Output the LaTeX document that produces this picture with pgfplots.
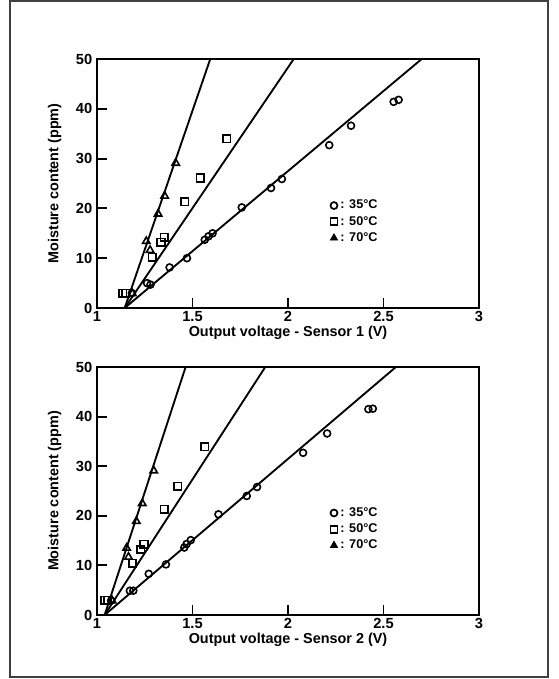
\documentclass[border=0pt]{standalone}
\usepackage{fontspec}
\setmainfont{Liberation Sans}
\usepackage{pgfplots}
\pgfplotsset{compat=1.18}
\pgfplotsset{
 myax/.style={
  scale only axis, width=286.5pt, height=186.75pt,
  xmin=1, xmax=3, ymin=0, ymax=50,
  xtick={1,1.5,2,2.5,3}, ytick={0,10,20,30,40,50},
  tick align=inside, xtick pos=bottom, ytick pos=left,
  major tick length=7.5pt,
  axis line style={line width=1.4pt},
  every tick/.style={black, line width=1.4pt},
  /pgf/number format/assume math mode=true,
  tick label style={font=\fontsize{11}{13}\selectfont\bfseries},
  xticklabel style={yshift=1pt},
  label style={font=\fontsize{10.8}{13}\selectfont\bfseries},
  ylabel={Moisture content (ppm)},
  ylabel style={yshift=4pt},
  xlabel style={yshift=3.5pt},
  legend style={draw=none, fill=none, font=\fontsize{9.5}{11}\selectfont\bfseries, at={(0.61,0.445)}, anchor=north west, inner sep=0pt, row sep=0pt},
  legend cell align=left,
  legend image code/.code={\draw[#1] plot coordinates {(0.08cm,0cm)};},
  legend entries={: 35°C, : 50°C, : 70°C},
 },
 cir/.style={only marks, mark=o, mark size=2.6pt, mark options={line width=1.2pt, black}, forget plot},
 sqr/.style={only marks, mark=square, mark size=2.8pt, mark options={line width=1.2pt, black}, forget plot},
 tri/.style={only marks, mark=triangle, mark size=3.2pt, mark options={line width=1.2pt, black}, forget plot},
 fit/.style={black, line width=1.4pt, no marks, forget plot},
}
\begin{document}
\begin{tikzpicture}
\useasboundingbox (0,0) rectangle (418.5pt,509.25pt);
\draw[line width=0.8pt, black!75] (7.5pt,1.5pt) rectangle (411pt,508.5pt);
% ---------- Sensor 1 ----------
\begin{axis}[myax, at={(72.75pt,278.25pt)}, anchor=south west,
  xlabel={Output voltage - Sensor 1 (V)}]
\addlegendimage{only marks, mark=o, mark size=2.6pt, mark options={line width=1.3pt}}
\addlegendimage{only marks, mark=square, mark size=2.6pt, mark options={line width=1.3pt}}
\addlegendimage{only marks, mark=triangle*, mark size=3.2pt}
\addplot[fit] coordinates {(1.145,0) (2.70,50)};
\addplot[fit] coordinates {(1.145,0) (2.03,50)};
\addplot[fit] coordinates {(1.145,0) (1.593,50)};
\addplot[cir] coordinates {(1.183,3.0) (1.262,5.0) (1.280,4.7) (1.380,8.15) (1.471,10.0) (1.564,13.7) (1.584,14.4) (1.605,15.0) (1.758,20.2) (1.911,24.1) (1.968,25.9) (2.216,32.7) (2.330,36.6) (2.553,41.4) (2.579,41.8)};
\addplot[sqr] coordinates {(1.134,3.0) (1.151,3.0) (1.289,10.2) (1.335,13.2) (1.352,14.2) (1.459,21.3) (1.540,26.1) (1.679,34.0)};
\addplot[tri] coordinates {(1.185,2.9) (1.258,13.4) (1.278,11.6) (1.320,18.9) (1.354,22.5) (1.412,29.1)};
\end{axis}
% ---------- Sensor 2 ----------
\begin{axis}[myax, at={(72.75pt,48pt)}, anchor=south west, height=186pt,
  xlabel={Output voltage - Sensor 2 (V)}]
\addlegendimage{only marks, mark=o, mark size=2.6pt, mark options={line width=1.3pt}}
\addlegendimage{only marks, mark=square, mark size=2.6pt, mark options={line width=1.3pt}}
\addlegendimage{only marks, mark=triangle*, mark size=3.2pt}
\addplot[fit] coordinates {(1.04,0) (2.565,50)};
\addplot[fit] coordinates {(1.04,0) (1.881,50)};
\addplot[fit] coordinates {(1.04,0) (1.464,50)};
\addplot[cir] coordinates {(1.074,2.9) (1.172,4.9) (1.190,4.9) (1.271,8.3) (1.361,10.2) (1.457,13.6) (1.469,14.3) (1.491,15.1) (1.636,20.3) (1.784,24.0) (1.838,25.8) (2.079,32.7) (2.205,36.6) (2.421,41.5) (2.444,41.6)};
\addplot[sqr] coordinates {(1.040,3.0) (1.055,3.0) (1.186,10.4) (1.229,13.2) (1.246,14.3) (1.352,21.3) (1.423,26.0) (1.564,33.9)};
\addplot[tri] coordinates {(1.079,2.9) (1.155,13.5) (1.165,11.7) (1.206,18.9) (1.237,22.5) (1.297,29.1)};
\end{axis}
\end{tikzpicture}
\end{document}
